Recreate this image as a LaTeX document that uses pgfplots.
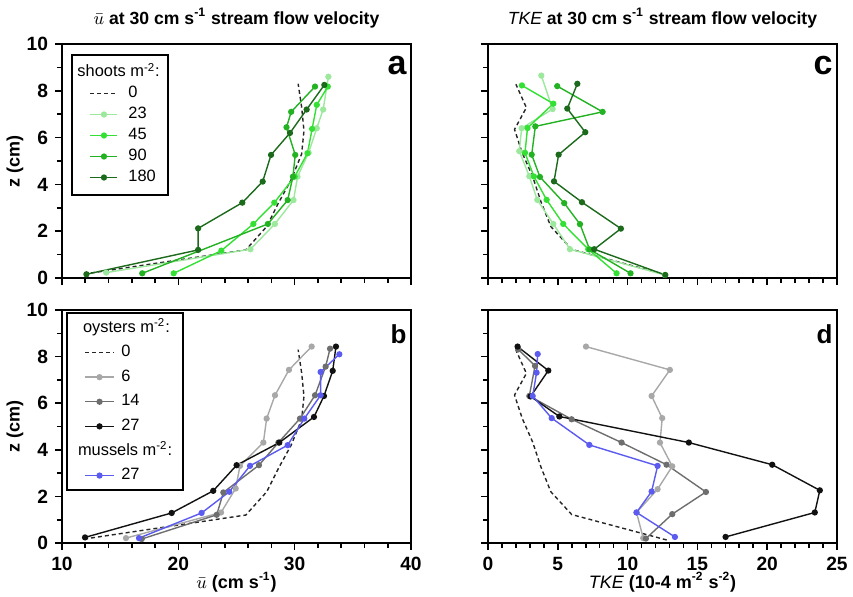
\documentclass[border=0pt]{standalone}
\usepackage{fontspec}
\setmainfont{Liberation Sans}
\usepackage{pgfplots}
\pgfplotsset{compat=1.18}

\definecolor{g23}{HTML}{9CE89C}
\definecolor{g45}{HTML}{33E033}
\definecolor{g90}{HTML}{22B222}
\definecolor{g180}{HTML}{1C6A1C}
\definecolor{k6}{HTML}{A8A8A8}
\definecolor{k14}{HTML}{6E6E6E}
\definecolor{k27}{HTML}{111111}
\definecolor{mus}{HTML}{5B5BEF}

\pgfplotsset{
  panel/.style={
    scale only axis, width=174.5pt, height=117pt,
    ymin=0, ymax=10, ytick={0,2,...,10}, minor ytick={1,3,...,9},
    tick align=outside, tick pos=left,
    major tick length=3.5pt, minor tick length=2.5pt,
    tick style={black, line width=0.8pt},
    axis line style={line width=1.1pt},
    /pgf/number format/assume math mode=true,
    ticklabel style={font=\bfseries\fontsize{9.6}{10}\selectfont},
    label style={font=\bfseries\fontsize{9}{10}\selectfont},
    ylabel style={at={(axis description cs:-0.1347,0.5)}, anchor=center},
    xlabel style={at={(axis description cs:0.5,0)}, anchor=center, yshift=-19.5pt},
    every axis title/.style={font=\bfseries\fontsize{8.8}{10}\selectfont,
      at={(axis description cs:0.5,1)}, anchor=center, yshift=13pt},
    legend cell align=left,
  },
  ubar/.style={xmin=10, xmax=40, xtick={10,20,30,40}, minor x tick num=4},
  tkex/.style={xmin=0, xmax=25, xtick={0,5,...,25}, minor x tick num=4, yticklabels={}},
  ser/.style={color=#1, mark=*, mark size=1.2pt, line width=0.7pt, mark options={fill=#1}},
  ref0/.style={black!85, line width=0.7pt, dash pattern=on 2pt off 1.5pt, mark=none},
  leg/.style={legend style={draw=black, line width=1pt, anchor=north west,
      inner xsep=2.5pt, inner ysep=3.5pt, outer sep=0pt, row sep=0pt,
      font=\fontsize{8.2}{8.2}\selectfont,
      nodes={inner xsep=1.5pt, inner ysep=1.55pt, text height=5.8pt, text depth=1.6pt}}},
}

\begin{document}
\begin{tikzpicture}
\useasboundingbox (0,0) rectangle (426.5pt,298pt);

% ---------- a: mean velocity, seagrass ----------
\begin{axis}[panel, ubar, at={(31pt,159pt)}, anchor=south west,
  xticklabels={},
  ylabel={z (cm)},
  title={$\bar{u}$ at 30 cm s\textsuperscript{-1} stream flow velocity},
  leg, legend style={at={(rel axis cs:0.028,0.953)}, column sep=3.65pt},
  legend image code/.code={\path (0pt,0pt); \draw[mark repeat=2,mark phase=2] plot coordinates {(6.5pt,0pt) (13.25pt,0pt) (20pt,0pt)};},
]
\addlegendimage{empty legend}
\addlegendentry{\hspace*{-25.5pt}shoots m\textsuperscript{-2}:}
\addplot[ref0] coordinates {
  (11.9,0.17) (25.8,1.2) (27.6,2.2) (28.6,3.2) (29.7,4.2) (30.6,5.3) (30.8,6.3) (30.6,7.3) (30.3,8.3)};
\addlegendentry{0}
\addplot[ser=g23] coordinates {
  (13.8,0.23) (26.2,1.23) (28.3,2.31) (29.9,3.33) (30.25,4.33) (31.2,5.36) (31.9,6.4) (32.45,7.2) (32.9,8.6)};
\addlegendentry{23}
\addplot[ser=g45] coordinates {
  (19.6,0.2) (23.7,1.17) (26.45,2.31) (28.25,3.22) (30.0,4.33) (31.1,5.33) (31.5,6.37) (31.9,7.4) (32.85,8.18)};
\addlegendentry{45}
\addplot[ser=g90] coordinates {
  (16.9,0.2) (27.7,2.31) (29.4,3.33) (29.85,4.33) (30.05,5.26) (29.3,6.44) (29.7,7.1) (31.75,8.18)};
\addlegendentry{90}
\addplot[ser=g180] coordinates {
  (12.1,0.16) (21.7,1.2) (21.7,2.12) (25.5,3.22) (27.25,4.12) (27.97,5.26) (29.6,6.2) (31.03,7.2) (32.55,8.25)};
\addlegendentry{180}
\node[anchor=north east, inner sep=0pt, font=\bfseries\fontsize{17}{17}\selectfont] at (rel axis cs:0.9885,0.949) {a};
\end{axis}

% ---------- b: mean velocity, bivalves ----------
\begin{axis}[panel, ubar, at={(31pt,26.5pt)}, anchor=south west, height=116.5pt,
  ylabel={z (cm)},
  xlabel={$\bar{u}$ (cm s\textsuperscript{-1})},
  leg, legend style={at={(rel axis cs:0.015,0.986)}, column sep=2pt, inner ysep=1.2pt,
     inner xsep=4pt, nodes={inner ysep=2.45pt}},
  legend image code/.code={\path (0pt,0pt); \draw[mark repeat=2,mark phase=2] plot coordinates {(4.7pt,0pt) (11.8pt,0pt) (18.85pt,0pt)};},
]
\addlegendimage{empty legend}
\addlegendentry{\hspace*{-19.15pt}oysters m\textsuperscript{-2}:}
\addplot[ref0] coordinates {
  (11.9,0.17) (25.8,1.2) (27.6,2.2) (28.6,3.2) (29.7,4.2) (30.6,5.3) (30.8,6.3) (30.6,7.3) (30.3,8.3)};
\addlegendentry{0}
\addplot[ser=k6] coordinates {
  (15.5,0.21) (23.67,1.31) (24.93,2.34) (25.3,3.31) (27.31,4.31) (27.59,5.34) (28.31,6.34) (29.51,7.43) (31.46,8.43)};
\addlegendentry{6}
\addplot[ser=k14] coordinates {
  (16.85,0.17) (23.3,1.21) (23.87,2.17) (26.93,3.34) (28.6,4.31) (30.46,5.34) (31.75,6.34) (32.66,7.57) (33.04,8.34)};
\addlegendentry{14}
\addplot[ser=k27] coordinates {
  (11.98,0.24) (19.43,1.29) (23.0,2.24) (25.01,3.34) (28.68,4.31) (31.66,5.41) (32.52,6.31) (33.27,7.39) (33.55,8.43)};
\addlegendentry{27}
\addlegendimage{empty legend}
\addlegendentry{\hspace*{-21.65pt}mussels m\textsuperscript{-2}:}
\addplot[ser=mus] coordinates {
  (16.62,0.21) (22.0,1.29) (24.38,2.2) (26.16,3.31) (29.4,4.2) (30.83,5.34) (32.23,6.34) (32.23,7.34) (33.84,8.1)};
\addlegendentry{27}
\node[anchor=north east, inner sep=0pt, font=\bfseries\fontsize{13}{13}\selectfont] at (rel axis cs:0.9885,0.94) {b};
\end{axis}

% ---------- c: TKE, seagrass ----------
\begin{axis}[panel, tkex, at={(244pt,159pt)}, anchor=south west,
  xticklabels={},
  title={$\mathit{TKE}$ at 30 cm s\textsuperscript{-1} stream flow velocity},
]
\addplot[ref0] coordinates {
  (12.8,0.13) (6.0,1.22) (4.5,2.2) (3.8,3.25) (3.2,4.33) (2.45,5.35) (1.9,6.35) (2.75,7.28) (2.0,8.28)};
\addplot[ser=g23] coordinates {
  (12.67,0.13) (5.87,1.23) (4.68,2.31) (3.53,3.34) (2.96,4.35) (2.24,5.42) (2.41,6.4) (4.63,7.22) (3.82,8.65)};
\addplot[ser=g45] coordinates {
  (9.21,0.2) (7.18,1.23) (5.39,2.31) (4.2,3.34) (3.29,4.34) (2.65,5.35) (2.83,6.41) (4.68,7.45) (2.43,8.23)};
\addplot[ser=g90] coordinates {
  (10.21,0.2) (7.28,1.22) (6.59,2.3) (5.46,3.2) (3.72,4.32) (3.13,5.27) (3.39,6.48) (8.21,7.1) (4.96,8.2)};
\addplot[ser=g180] coordinates {
  (12.7,0.13) (7.61,1.23) (9.52,2.11) (6.73,3.24) (4.73,4.13) (5.06,5.27) (6.97,6.23) (5.68,7.24) (6.4,8.3)};
\node[anchor=north east, inner sep=0pt, font=\bfseries\fontsize{17}{17}\selectfont] at (rel axis cs:0.9885,0.949) {c};
\end{axis}

% ---------- d: TKE, bivalves ----------
\begin{axis}[panel, tkex, at={(244pt,26.5pt)}, anchor=south west, height=116.5pt,
  xlabel={$\mathit{TKE}$ (10-4 m\textsuperscript{-2} s\textsuperscript{-2})},
]
\addplot[ref0] coordinates {
  (12.8,0.13) (6.0,1.22) (4.5,2.2) (3.8,3.25) (3.2,4.33) (2.45,5.35) (1.9,6.35) (2.75,7.28) (2.0,8.28)};
\addplot[ser=k6] coordinates {
  (11.12,0.21) (10.64,1.31) (12.15,2.31) (13.2,3.29) (12.32,4.31) (12.48,5.36) (11.72,6.31) (13.03,7.43) (7.02,8.43)};
\addplot[ser=k14] coordinates {
  (11.31,0.19) (13.2,1.24) (15.61,2.19) (12.79,3.36) (9.57,4.31) (5.99,5.31) (2.96,6.31) (3.37,7.6) (2.17,8.31)};
\addplot[ser=k27] coordinates {
  (17.02,0.26) (23.41,1.31) (23.77,2.26) (20.36,3.36) (14.39,4.31) (5.11,5.43) (3.05,6.29) (4.32,7.4) (2.12,8.43)};
\addplot[ser=mus] coordinates {
  (13.39,0.26) (10.64,1.31) (11.72,2.21) (12.15,3.31) (7.26,4.21) (4.56,5.36) (3.2,6.31) (3.48,7.31) (3.56,8.11)};
\node[anchor=north east, inner sep=0pt, font=\bfseries\fontsize{13}{13}\selectfont] at (rel axis cs:0.9885,0.94) {d};
\end{axis}
\end{tikzpicture}
\end{document}
